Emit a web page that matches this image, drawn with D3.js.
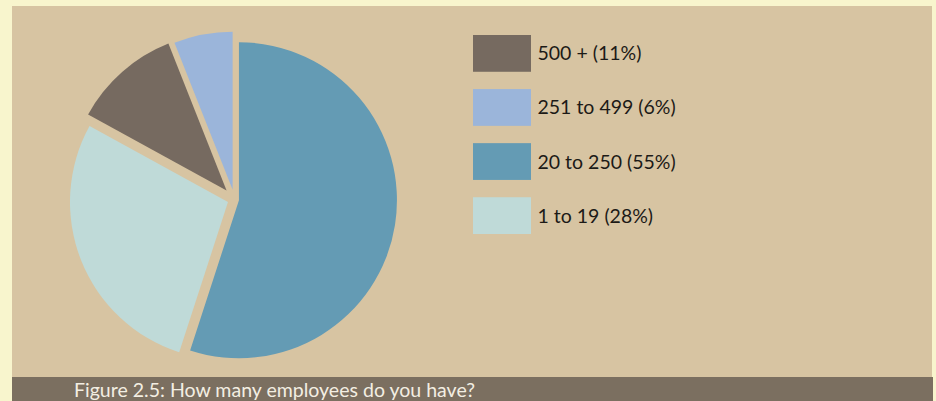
<!DOCTYPE html>
<html>
<head>
<meta charset="utf-8">
<script src="https://cdn.jsdelivr.net/npm/d3@7"></script>
<style>
  html, body { margin: 0; padding: 0; background: #f8f5cd; }
  svg { display: block; }
</style>
</head>
<body>
<svg id="chart" width="936" height="401"></svg>
<script>
// Survey answers: company size bands and their share of respondents (%)
const categories = ["500 +", "251 to 499", "20 to 250", "1 to 19"];
const shares = [11, 6, 55, 28];
const sliceColors = ["#766a60", "#9bb5da", "#649bb4", "#bfdad8"];
const caption = "Figure 2.5: How many employees do you have?";

const W = 936, H = 401;
const svg = d3.select("#chart");

// page background, tan panel and caption strip
svg.append("rect").attr("width", W).attr("height", H).attr("fill", "#f8f5cd");
svg.append("rect").attr("x", 12).attr("y", 6).attr("width", 920).attr("height", 371).attr("fill", "#d7c4a2");
svg.append("rect").attr("x", 12).attr("y", 377).attr("width", 921).attr("height", 24).attr("fill", "#7b6f60");

const data = categories.map((c, i) => ({ category: c, share: shares[i], color: sliceColors[i] }));

// pie: largest slice first, clockwise from 12 o'clock
const pie = d3.pie().value(d => d.share).sort((a, b) => b.share - a.share);
const radius = 158;
const arc = d3.arc().innerRadius(0).outerRadius(radius);

// each slice is pulled out from the centre by its own distance
const explode = { "500 +": 12, "251 to 499": 10, "20 to 250": 4.5, "1 to 19": 7 };

const pieG = svg.append("g").attr("transform", "translate(234.5,199.5)");
pieG.selectAll("path")
  .data(pie(data))
  .join("path")
  .attr("d", arc)
  .attr("fill", d => d.data.color)
  .attr("transform", d => {
    const mid = (d.startAngle + d.endAngle) / 2;
    const off = explode[d.data.category];
    return `translate(${Math.sin(mid) * off},${-Math.cos(mid) * off})`;
  });

// legend
const legendY = d3.scaleBand().domain(categories).range([35, 234]).paddingInner(0.32);
const legend = svg.append("g");
const item = legend.selectAll("g")
  .data(data)
  .join("g")
  .attr("transform", d => `translate(473,${legendY(d.category)})`);
item.append("rect")
  .attr("width", 58)
  .attr("height", legendY.bandwidth())
  .attr("fill", d => d.color);
item.append("text")
  .attr("x", 64.5)
  .attr("y", legendY.bandwidth() / 2 + 7)
  .attr("font-family", "Lato, 'Open Sans', sans-serif")
  .attr("font-size", 19.5)
  .attr("fill", "#1c1a17")
  .text(d => `${d.category} (${d.share}%)`);

// caption
svg.append("text")
  .attr("x", 74)
  .attr("y", 397)
  .attr("font-family", "Lato, 'Open Sans', sans-serif")
  .attr("font-size", 19.5)
  .attr("fill", "#f3eee2")
  .attr("textLength", 401)
  .attr("lengthAdjust", "spacingAndGlyphs")
  .text(caption);
</script>
</body>
</html>
